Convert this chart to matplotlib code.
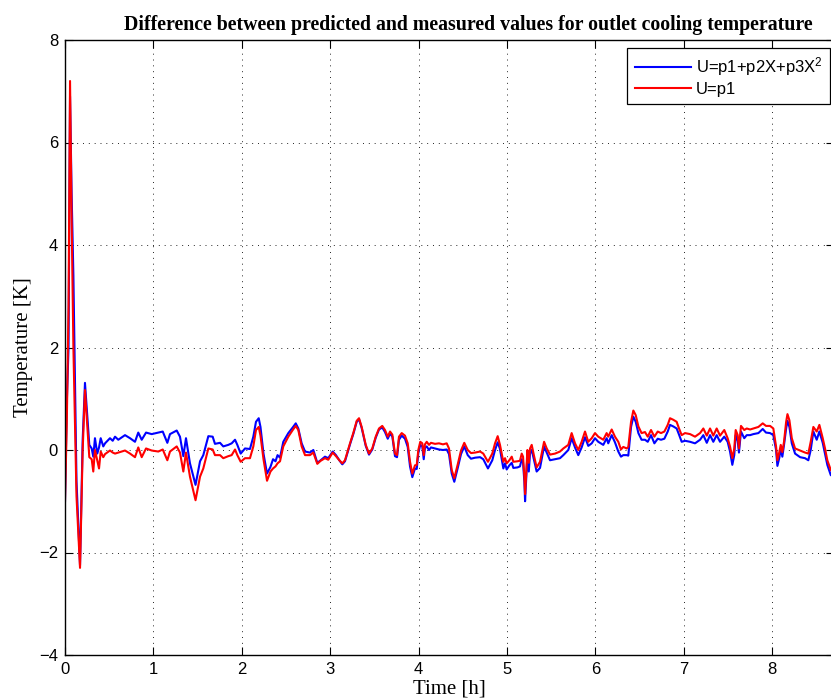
import matplotlib
matplotlib.use('Agg')
import matplotlib.pyplot as plt

# ---- data ----
time_h = [
    0.000, 0.020, 0.040, 0.057, 0.075, 0.095, 0.130, 0.170, 0.200, 0.226,
    0.275, 0.302, 0.320, 0.339, 0.365, 0.385, 0.404, 0.433, 0.453, 0.509,
    0.540, 0.566, 0.603, 0.679, 0.736, 0.792, 0.829, 0.868, 0.917, 0.981,
    1.056, 1.106, 1.158, 1.188, 1.264, 1.301, 1.339, 1.369, 1.414, 1.477,
    1.528, 1.565, 1.622, 1.671, 1.697, 1.754, 1.791, 1.848, 1.886, 1.924,
    1.950, 1.988, 2.037, 2.093, 2.131, 2.161, 2.192, 2.212, 2.246, 2.286,
    2.325, 2.354, 2.382, 2.405, 2.433, 2.470, 2.527, 2.577, 2.611, 2.640,
    2.678, 2.716, 2.772, 2.810, 2.855, 2.893, 2.942, 2.979, 3.029, 3.066,
    3.104, 3.138, 3.168, 3.225, 3.262, 3.301, 3.327, 3.357, 3.403, 3.440,
    3.477, 3.516, 3.553, 3.590, 3.621, 3.652, 3.678, 3.704, 3.734, 3.757,
    3.779, 3.810, 3.847, 3.878, 3.904, 3.930, 3.960, 3.980, 3.998, 4.020,
    4.043, 4.059, 4.073, 4.093, 4.119, 4.141, 4.187, 4.232, 4.277, 4.319,
    4.345, 4.376, 4.405, 4.444, 4.481, 4.518, 4.557, 4.594, 4.641, 4.697,
    4.733, 4.786, 4.835, 4.866, 4.896, 4.922, 4.960, 4.979, 4.998, 5.028,
    5.055, 5.073, 5.120, 5.148, 5.168, 5.183, 5.198, 5.206, 5.217, 5.232,
    5.248, 5.262, 5.281, 5.308, 5.337, 5.375, 5.421, 5.451, 5.488, 5.545,
    5.601, 5.639, 5.695, 5.733, 5.771, 5.808, 5.846, 5.884, 5.921, 5.960,
    5.997, 6.034, 6.091, 6.129, 6.147, 6.186, 6.223, 6.261, 6.291, 6.317,
    6.356, 6.374, 6.405, 6.431, 6.458, 6.488, 6.524, 6.563, 6.594, 6.631,
    6.669, 6.707, 6.744, 6.782, 6.820, 6.846, 6.883, 6.921, 6.948, 6.978,
    7.016, 7.073, 7.129, 7.186, 7.223, 7.262, 7.299, 7.336, 7.374, 7.412,
    7.460, 7.498, 7.525, 7.551, 7.573, 7.589, 7.612, 7.626, 7.649, 7.686,
    7.714, 7.752, 7.789, 7.846, 7.895, 7.932, 7.978, 8.015, 8.046, 8.061,
    8.083, 8.099, 8.117, 8.136, 8.160, 8.175, 8.197, 8.224, 8.261, 8.318,
    8.374, 8.411, 8.438, 8.468, 8.506, 8.536, 8.574, 8.600, 8.626, 8.665,
    8.700,
]

diff_quadratic = [
    -1.00, 0.90, 2.00, 6.90, 5.00, 3.40, -0.60, -2.25, 0.20, 1.31,
    0.10, 0.03, -0.13, 0.23, -0.07, 0.05, 0.23, 0.07, 0.13, 0.23,
    0.18, 0.26, 0.20, 0.29, 0.23, 0.16, 0.34, 0.20, 0.34, 0.31,
    0.34, 0.36, 0.14, 0.31, 0.38, 0.26, -0.12, 0.23, -0.26, -0.68,
    -0.22, -0.10, 0.27, 0.26, 0.12, 0.14, 0.07, 0.10, 0.13, 0.20,
    0.10, -0.07, 0.03, 0.02, 0.26, 0.55, 0.62, 0.45, -0.07, -0.46,
    -0.33, -0.18, -0.22, -0.10, -0.15, 0.16, 0.33, 0.44, 0.52, 0.42,
    0.13, -0.03, -0.05, 0.00, -0.25, -0.20, -0.13, -0.16, -0.03, -0.10,
    -0.20, -0.28, -0.22, 0.11, 0.31, 0.55, 0.60, 0.43, 0.08, -0.09,
    0.01, 0.24, 0.40, 0.44, 0.35, 0.22, 0.32, 0.26, -0.12, -0.14,
    0.20, 0.28, 0.22, 0.06, -0.32, -0.53, -0.36, -0.37, -0.06, 0.10,
    0.07, -0.18, 0.04, 0.07, 0.00, 0.05, 0.03, 0.01, 0.00, 0.01,
    -0.08, -0.46, -0.62, -0.35, -0.08, 0.07, -0.10, -0.17, -0.15, -0.14,
    -0.18, -0.36, -0.20, 0.00, 0.15, 0.02, -0.36, -0.26, -0.38, -0.30,
    -0.25, -0.35, -0.34, -0.32, -0.18, -0.25, -0.62, -1.00, -0.62, -0.10,
    -0.42, -0.07, 0.00, -0.20, -0.42, -0.35, 0.07, -0.05, -0.20, -0.18,
    -0.16, -0.10, 0.00, 0.23, 0.05, -0.10, 0.05, 0.25, 0.08, 0.13,
    0.23, 0.16, 0.10, 0.23, 0.13, 0.29, 0.15, -0.03, -0.13, -0.10,
    -0.10, -0.11, 0.45, 0.65, 0.55, 0.33, 0.20, 0.20, 0.16, 0.29,
    0.13, 0.22, 0.20, 0.22, 0.36, 0.49, 0.46, 0.42, 0.30, 0.16,
    0.18, 0.16, 0.13, 0.20, 0.29, 0.14, 0.29, 0.16, 0.29, 0.16,
    0.26, 0.16, -0.03, -0.29, -0.10, 0.29, 0.18, -0.05, 0.36, 0.23,
    0.29, 0.29, 0.31, 0.33, 0.41, 0.34, 0.33, 0.29, 0.00, -0.31,
    -0.15, 0.03, -0.13, 0.10, 0.42, 0.57, 0.45, 0.13, -0.07, -0.14,
    -0.16, -0.20, 0.00, 0.36, 0.20, 0.36, 0.14, -0.07, -0.29, -0.49,
    -0.52,
]

diff_constant = [
    -1.00, 0.50, 2.80, 7.20, 4.50, 2.00, -0.90, -2.30, 0.00, 1.17,
    -0.14, -0.18, -0.42, 0.00, -0.20, -0.36, -0.03, -0.14, -0.08, -0.01,
    -0.05, -0.07, -0.05, -0.01, -0.07, -0.14, 0.05, -0.14, 0.03, -0.01,
    -0.03, 0.01, -0.20, -0.03, 0.07, -0.05, -0.42, -0.05, -0.52, -0.98,
    -0.52, -0.36, 0.03, 0.01, -0.10, -0.10, -0.16, -0.12, -0.10, 0.01,
    -0.10, -0.23, -0.16, -0.16, 0.07, 0.39, 0.45, 0.28, -0.18, -0.60,
    -0.42, -0.36, -0.32, -0.26, -0.22, 0.07, 0.26, 0.39, 0.47, 0.39,
    0.07, -0.10, -0.10, -0.05, -0.27, -0.21, -0.16, -0.19, -0.05, -0.12,
    -0.20, -0.26, -0.20, 0.13, 0.33, 0.57, 0.62, 0.45, 0.10, -0.07,
    0.03, 0.26, 0.42, 0.47, 0.39, 0.26, 0.36, 0.30, -0.07, -0.10,
    0.26, 0.33, 0.28, 0.13, -0.23, -0.46, -0.30, -0.29, 0.00, 0.16,
    0.13, -0.10, 0.11, 0.16, 0.10, 0.14, 0.12, 0.13, 0.11, 0.13,
    0.03, -0.39, -0.55, -0.28, -0.01, 0.14, 0.00, -0.06, -0.05, -0.03,
    -0.07, -0.23, -0.07, 0.13, 0.27, 0.10, -0.23, -0.16, -0.26, -0.20,
    -0.13, -0.23, -0.22, -0.21, -0.07, -0.13, -0.52, -0.86, -0.52, 0.00,
    -0.25, 0.03, 0.10, -0.12, -0.34, -0.23, 0.16, 0.03, -0.09, -0.07,
    -0.03, 0.03, 0.10, 0.33, 0.13, 0.00, 0.16, 0.36, 0.16, 0.23,
    0.33, 0.26, 0.20, 0.33, 0.26, 0.40, 0.26, 0.16, 0.01, 0.06,
    0.03, 0.06, 0.55, 0.77, 0.68, 0.46, 0.33, 0.35, 0.26, 0.39,
    0.26, 0.36, 0.33, 0.36, 0.49, 0.62, 0.59, 0.55, 0.42, 0.29,
    0.33, 0.31, 0.26, 0.33, 0.42, 0.28, 0.42, 0.28, 0.42, 0.28,
    0.39, 0.23, 0.07, -0.16, 0.03, 0.39, 0.29, 0.03, 0.47, 0.39,
    0.42, 0.40, 0.42, 0.45, 0.52, 0.47, 0.47, 0.42, 0.07, -0.20,
    -0.04, 0.10, -0.04, 0.16, 0.55, 0.70, 0.58, 0.23, 0.03, -0.01,
    -0.05, -0.07, 0.16, 0.45, 0.36, 0.49, 0.23, 0.03, -0.20, -0.39,
    -0.44,
]

x_ticks = [0, 1, 2, 3, 4, 5, 6, 7, 8]
y_ticks = [-4, -2, 0, 2, 4, 6, 8]
series_labels = ['U=p1+p2X+p3X$^2$', 'U=p1']
title_text = 'Difference between predicted and measured values for outlet cooling temperature'
x_label = 'Time [h]'
y_label = 'Temperature [K]'

# ---- styling ----
plt.rcParams['font.family'] = ['Liberation Sans', 'DejaVu Sans']
plt.rcParams['mathtext.fontset'] = 'custom'
plt.rcParams['mathtext.rm'] = 'Liberation Sans'
plt.rcParams['mathtext.it'] = 'Liberation Sans'
serif = ['Liberation Serif', 'DejaVu Serif']

W, H = 831, 700
fig = plt.figure(figsize=(W / 100, H / 100), dpi=100)
left_px, right_px, top_px, bottom_px = 65, 834, 40, 655
ax = fig.add_axes([left_px / W, 1 - bottom_px / H,
                   (right_px - left_px) / W, (bottom_px - top_px) / H])

ax.plot(time_h, diff_quadratic, color='#0000ff', lw=1.5, label=series_labels[0])
ax.plot(time_h, diff_constant, color='#ff0000', lw=1.5, label=series_labels[1])

ax.set_xlim(0, (right_px - left_px) / 88.375)
ax.set_ylim(-4, 8)
ax.set_xticks(x_ticks)
ax.set_yticks(y_ticks)
ax.tick_params(direction='in', length=5.5, width=0.8, top=True, right=True,
               labelsize=12, pad=5, colors='black')
for s in ax.spines.values():
    s.set_linewidth(1.0)
    s.set_color('black')

ax.grid(True, color='0.15', linestyle=(0, (1, 5)), linewidth=0.7)

ax.set_title(title_text, fontfamily=serif, fontweight='bold', fontsize=14.3,
             x=0.525, pad=7)
ax.set_xlabel(x_label, fontfamily=serif, fontsize=15, labelpad=2)
ax.set_ylabel(y_label, fontfamily=serif, fontsize=15, labelpad=4)

leg = ax.legend(loc='upper right', bbox_to_anchor=(830 / W, 1 - 48 / H),
                bbox_transform=fig.transFigure, borderaxespad=0,
                fancybox=False, edgecolor='black', framealpha=1,
                fontsize=12, handlelength=3.4, handletextpad=0.25,
                labelspacing=0.2, borderpad=0.45)
leg.get_frame().set_linewidth(0.9)

fig.savefig('out.png', dpi=100)
